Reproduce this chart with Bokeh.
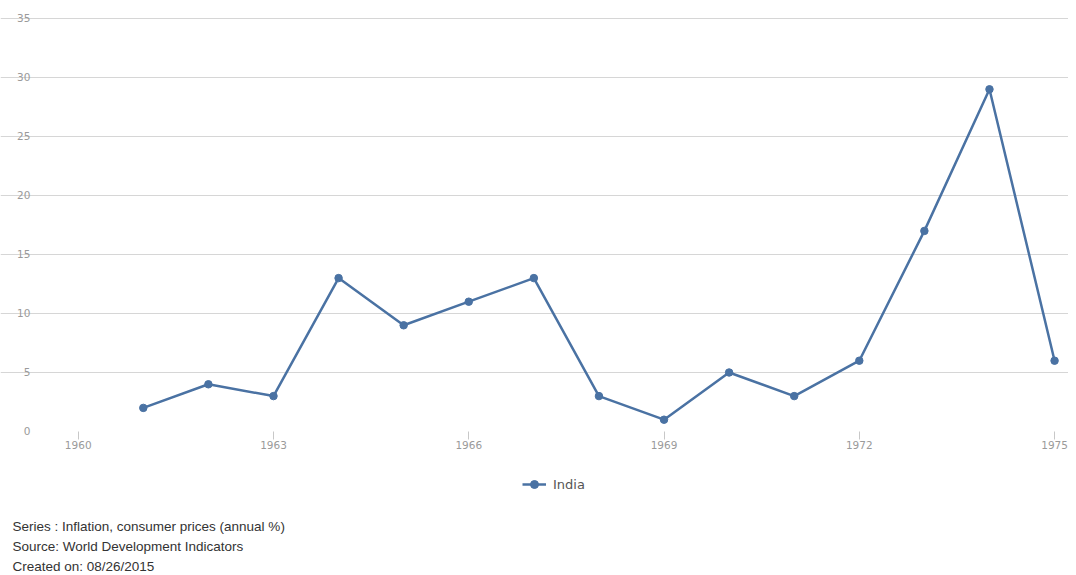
from bokeh.plotting import figure
from bokeh.models import Range1d, FixedTicker, Legend, LegendItem, Label
from bokeh.embed import file_html
from bokeh.resources import INLINE

years = [1961, 1962, 1963, 1964, 1965, 1966, 1967, 1968, 1969, 1970, 1971, 1972, 1973, 1974, 1975]
inflation = [2, 4, 3, 13, 9, 11, 13, 3, 1, 5, 3, 6, 17, 29, 6]
x_ticks = [1960, 1963, 1966, 1969, 1972, 1975]
y_ticks = [0, 5, 10, 15, 20, 25, 30, 35]
series_name = "India"
footer = ["Series : Inflation, consumer prices (annual %)",
          "Source: World Development Indicators",
          "Created on: 08/26/2015"]

FONT = "Liberation Sans"
TICK_FONT = "DejaVu Sans"
COLOR = "#4a72a3"
W, H = 1068, 574

# frame covers the whole canvas; axes are pinned inside it
p = figure(width=W, height=H, output_backend="svg", toolbar_location=None,
           x_range=Range1d(1958.806, 1975.214), y_range=Range1d(-12.119, 36.525),
           min_border_left=0, min_border_right=0, min_border_top=0, min_border_bottom=0)
p.outline_line_color = None

line = p.line(years, inflation, line_color=COLOR, line_width=2.5)
pts = p.scatter(years, inflation, size=7.5, fill_color=COLOR, line_color=COLOR)

p.xaxis.ticker = FixedTicker(ticks=x_ticks)
p.yaxis.ticker = FixedTicker(ticks=y_ticks)
p.xaxis.fixed_location = 0
p.yaxis.fixed_location = 1959.495
p.xgrid.grid_line_color = None
p.ygrid.ticker = FixedTicker(ticks=y_ticks[1:])
p.ygrid.grid_line_color = "#d6d6d6"
p.ygrid.grid_line_width = 1
p.ygrid.bounds = (1959.495, 1975.214)

for ax in (p.xaxis, p.yaxis):
    ax.axis_line_color = None
    ax.major_label_text_font = TICK_FONT
    ax.major_label_text_font_size = "10.5px"
    ax.major_label_text_color = "#9a9a9a"
    ax.minor_tick_line_color = None
p.yaxis.major_tick_line_color = None
p.yaxis.major_label_standoff = 9
p.xaxis.major_tick_line_color = "#c8c8c8"
p.xaxis.major_tick_out = 8
p.xaxis.major_tick_in = 0
p.xaxis.major_label_standoff = 2

legend = Legend(items=[LegendItem(label=series_name, renderers=[line, pts])],
                location=(522, 80), orientation="horizontal",
                border_line_color=None, background_fill_alpha=0,
                label_text_font=TICK_FONT, label_text_font_size="13px",
                label_text_color="#555555", glyph_width=24, label_standoff=7,
                padding=0, margin=0)
p.add_layout(legend, "center")

for t, y in zip(footer, [48, 28, 8]):
    p.add_layout(Label(x=12, y=y, x_units="screen", y_units="screen", text=t,
                       text_font=FONT, text_font_size="13.5px", text_color="#333333",
                       text_baseline="middle", text_align="left"))

open("out.html", "w").write(file_html(p, INLINE))
